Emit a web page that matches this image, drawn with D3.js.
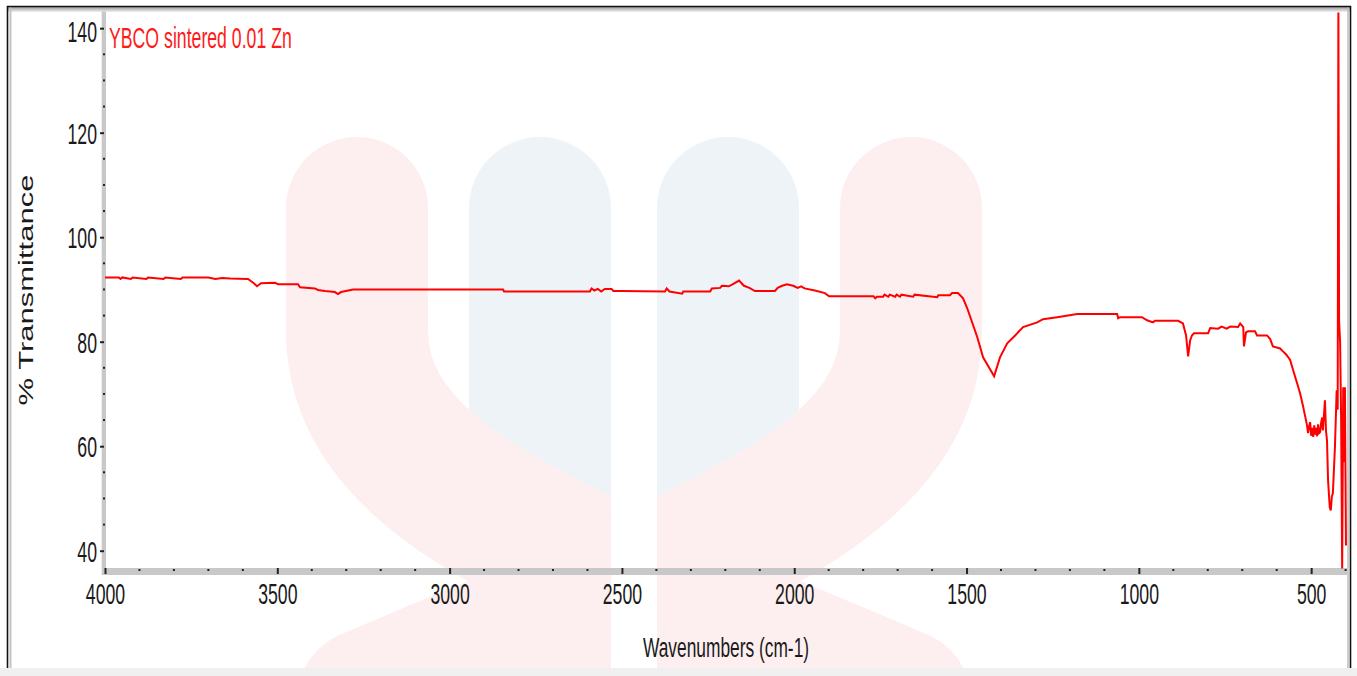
<!DOCTYPE html>
<html>
<head>
<meta charset="utf-8">
<script src="https://cdn.jsdelivr.net/npm/d3@7"></script>
<style>
  html, body { margin: 0; padding: 0; background: #ffffff; }
  svg { display: block; }
</style>
</head>
<body>
<svg id="chart" width="1357" height="676"></svg>
<script>
// FTIR spectrum: wavenumber (cm-1) vs. % transmittance
const wavenumbers = [
  4000, 3960, 3955, 3950, 3925, 3920, 3880, 3875, 3830, 3825, 3780, 3775, 3700, 3680, 3660, 3637,
  3585, 3570, 3559, 3547, 3507, 3498, 3440, 3434, 3391, 3382, 3362, 3333, 3324, 3315, 3280,
  2845, 2842, 2593, 2588, 2580, 2570, 2560, 2550, 2530, 2525, 2505, 2375, 2370, 2362, 2325, 2322,
  2244, 2239, 2215, 2210, 2190, 2178, 2160, 2146, 2130, 2114, 2056, 2048, 2035, 2021, 2003, 1990,
  1980, 1970, 1940, 1911, 1899, 1770, 1765, 1760, 1742, 1738, 1727, 1723, 1707, 1703, 1693, 1689,
  1655, 1651, 1585, 1582, 1548, 1542, 1525, 1510, 1498, 1469, 1452, 1420, 1403, 1382, 1359, 1336,
  1295, 1278, 1237, 1179, 1063, 1060, 1054, 991, 976, 959, 953, 886, 872, 863, 857, 851, 846, 840,
  799, 793, 770, 760, 745, 735, 712, 706, 697, 695, 689, 683, 663, 657, 628, 619, 611, 590, 584,
  572, 561, 552, 541, 532, 523, 518, 512, 509, 506, 503, 500, 497, 494, 491, 488, 486, 483, 480,
  477, 474, 471, 468, 466, 460, 457, 454, 451, 446, 443, 440, 437, 431, 426, 423, 421, 419, 416,
  413, 410, 407, 404, 402, 399
];
const transmittance = [
  92.3, 92.3, 92.0, 92.3, 92.0, 92.3, 92.0, 92.3, 92.0, 92.3, 92.0, 92.3, 92.3, 92.0, 92.2, 92.1,
  92.0, 91.3, 90.6, 91.2, 91.3, 91.0, 91.0, 90.4, 90.2, 89.9, 89.7, 89.5, 89.1, 89.5, 90.0,
  90.0, 89.6, 89.6, 90.2, 89.8, 90.1, 89.6, 90.1, 90.1, 89.7, 89.7, 89.6, 90.2, 89.6, 89.2, 89.6,
  89.6, 90.2, 90.3, 90.7, 90.6, 91.0, 91.7, 90.7, 90.3, 89.7, 89.7, 90.3, 90.7, 91.0, 90.7, 90.3,
  90.6, 90.2, 89.8, 89.3, 88.7, 88.7, 88.3, 88.6, 88.6, 89.0, 88.6, 89.0, 88.6, 89.0, 88.6, 89.0,
  88.6, 89.0, 88.5, 88.9, 88.9, 89.3, 89.3, 88.3, 86.4, 80.9, 77.0, 73.4, 77.0, 79.7, 81.2, 82.8,
  83.7, 84.3, 84.7, 85.3, 85.3, 84.5, 84.7, 84.7, 84.1, 83.7, 84.0, 84.0, 83.5, 81.2, 77.2, 80.3, 81.2, 81.6,
  81.6, 82.6, 82.5, 82.9, 82.5, 82.9, 82.8, 83.5, 82.8, 79.1, 81.8, 82.0, 82.0, 81.2, 81.2, 80.5, 79.1, 78.7, 78.3,
  77.5, 76.5, 74.5, 72.1, 70.1, 67.5, 65.9, 64.0, 62.5, 63.8, 64.6, 62.0, 63.5, 61.8, 64.0, 62.2, 63.5, 61.9, 64.2,
  62.5, 62.7, 64.5, 65.5, 63.0, 68.8, 63.0, 61.1, 53.5, 48.3, 47.7, 50.4, 51.0, 59.8, 70.7, 67.0, 146.0, 84.0, 80.0,
  65.0, 36.6, 71.3, 57.0, 71.3, 41.0
];

const xTickValues = [4000, 3500, 3000, 2500, 2000, 1500, 1000, 500];
const yTickValues = [40, 60, 80, 100, 120, 140];
const seriesLabel = "YBCO sintered 0.01 Zn";
const xTitle = "Wavenumbers (cm-1)";
const yTitle = "% Transmittance";

const W = 1357, H = 676;
const plot = { left: 104, right: 1347, top: 12.5, bottom: 569 };
const narrow = 0.61;            // horizontal squeeze of all lettering
const fontFamily = "Liberation Sans, Arial, sans-serif";

const svg = d3.select("#chart");
const defs = svg.append("defs");

const x = d3.scaleLinear().domain([4000, 396]).range([105, 1347]);
const y = d3.scaleLinear().domain([36.5, 143]).range([569, 12.5]);

// ---- faint background emblem ----
const emblem = svg.append("g").attr("class", "emblem");
const pink = "#fdefef", blue = "#eef3f8";
const bandW = 142;
// the pink ribbons leave the slot between the two blue columns open
const slot = defs.append("mask").attr("id", "slotMask")
  .attr("maskUnits", "userSpaceOnUse").attr("x", 0).attr("y", 0).attr("width", W).attr("height", H);
slot.append("rect").attr("x", 0).attr("y", 0).attr("width", W).attr("height", H).attr("fill", "#fff");
slot.append("rect").attr("x", 611).attr("y", 0).attr("width", 46).attr("height", H).attr("fill", "#000");
function band(g, path, color) {
  g.append("path").attr("d", path).attr("fill", "none")
    .attr("stroke", color).attr("stroke-width", bandW).attr("stroke-linecap", "round");
}
band(emblem, "M540,208 L540,720", blue);
band(emblem, "M728,208 L728,720", blue);
const ribbons = emblem.append("g").attr("mask", "url(#slotMask)");
band(ribbons, "M357,208 L357,330 C357,450 480,510 590,565 C680,610 760,640 900,700", pink);
band(ribbons, "M911,208 L911,330 C911,450 788,510 678,565 C588,610 508,640 368,700", pink);

// ---- outer frame ----
svg.append("rect").attr("x", 0).attr("y", 668).attr("width", W).attr("height", 8).attr("fill", "#f0f0f0");
const grad = defs.append("linearGradient").attr("id", "topShade").attr("x1", 0).attr("y1", 0).attr("x2", 0).attr("y2", 1);
grad.append("stop").attr("offset", "0%").attr("stop-color", "#9a9a9a");
grad.append("stop").attr("offset", "100%").attr("stop-color", "#f2f2f2");
svg.append("rect").attr("x", 8).attr("y", 7).attr("width", 1342).attr("height", 5).attr("fill", "url(#topShade)");
svg.append("line").attr("x1", 10.5).attr("x2", 10.5).attr("y1", 7).attr("y2", 668).attr("stroke", "#c4c4c4").attr("stroke-width", 2);
svg.append("line").attr("x1", 1348).attr("x2", 1348).attr("y1", 7).attr("y2", 668).attr("stroke", "#bdbdbd").attr("stroke-width", 1.5);
svg.append("path").attr("d", "M7.5,668 L7.5,6.5 L1350.5,6.5 L1350.5,668")
  .attr("fill", "none").attr("stroke", "#111").attr("stroke-width", 1.6);

// ---- axes ----
const yAxisG = svg.append("g").attr("transform", `translate(${plot.left},0)`)
  .call(d3.axisLeft(y).tickValues(yTickValues).tickSize(4).tickSizeOuter(0).tickPadding(7));
yAxisG.select(".domain").remove();
yAxisG.insert("rect", ":first-child").attr("x", -2.3).attr("y", plot.top - 1).attr("width", 4.3)
  .attr("height", 575 - plot.top + 1).attr("fill", "#c8c8c8");
yAxisG.selectAll(".tick line").attr("stroke", "#222").attr("stroke-width", 2);
yAxisG.selectAll(".tick text")
  .attr("x", -7 / narrow).attr("dy", "0.36em")
  .attr("transform", d => {
    const shift = Math.max(0, (plot.top + 19) - y(d));
    return `translate(0,${shift}) scale(${narrow},1)`;
  })
  .attr("font-family", fontFamily).attr("font-size", 29).attr("fill", "#1a1a1a");

const xAxisG = svg.append("g").attr("transform", `translate(0,${plot.bottom - 1})`)
  .call(d3.axisBottom(x).tickValues(xTickValues).tickSize(6).tickSizeOuter(0).tickPadding(9).tickFormat(d3.format("d")));
xAxisG.select(".domain").remove();
xAxisG.insert("rect", ":first-child").attr("x", 102).attr("y", 0).attr("width", plot.right - 102)
  .attr("height", 7).attr("fill", "#c8c8c8");
xAxisG.selectAll(".tick line").attr("stroke", "#222").attr("stroke-width", 2);
xAxisG.selectAll(".tick text")
  .attr("x", 0).attr("dy", "0.71em")
  .attr("transform", `scale(${narrow},1)`)
  .attr("font-family", fontFamily).attr("font-size", 29).attr("fill", "#1a1a1a");

// minor ticks: every 5 % and every 100 cm-1
const yMinor = d3.range(40, 143, 5).filter(v => !yTickValues.includes(v));
svg.append("g").selectAll("rect").data(yMinor).join("rect")
  .attr("x", plot.left - 1).attr("y", d => y(d) - 1).attr("width", 2).attr("height", 2).attr("fill", "#222");
const xMinor = d3.range(400, 4001, 100).filter(v => !xTickValues.includes(v));
svg.append("g").selectAll("rect").data(xMinor).join("rect")
  .attr("x", d => x(d) - 1).attr("y", plot.bottom).attr("width", 2).attr("height", 2).attr("fill", "#222");

// ---- spectrum ----
defs.append("clipPath").attr("id", "plotClip").append("rect")
  .attr("x", plot.left).attr("y", plot.top).attr("width", plot.right - plot.left).attr("height", plot.bottom - plot.top);
const points = wavenumbers.map((w, i) => [w, transmittance[i]]);
svg.append("path").datum(points)
  .attr("clip-path", "url(#plotClip)")
  .attr("fill", "none").attr("stroke", "#ff0000").attr("stroke-width", 2)
  .attr("stroke-linejoin", "miter")
  .attr("d", d3.line().x(d => x(d[0])).y(d => y(d[1])));

// ---- labels ----
svg.append("text")
  .attr("transform", `translate(109,48) scale(${narrow},1)`)
  .attr("font-family", fontFamily).attr("font-size", 29).attr("fill", "#ff1a1a")
  .text(seriesLabel);

svg.append("text")
  .attr("transform", `translate(726,657) scale(0.62,1)`)
  .attr("text-anchor", "middle")
  .attr("font-family", fontFamily).attr("font-size", 28).attr("fill", "#1a1a1a")
  .text(xTitle);

svg.append("text")
  .attr("transform", `translate(33,290) scale(0.66,1) rotate(-90)`)
  .attr("text-anchor", "middle")
  .attr("font-family", fontFamily).attr("font-size", 31).attr("fill", "#1a1a1a")
  .text(yTitle);
</script>
</body>
</html>
